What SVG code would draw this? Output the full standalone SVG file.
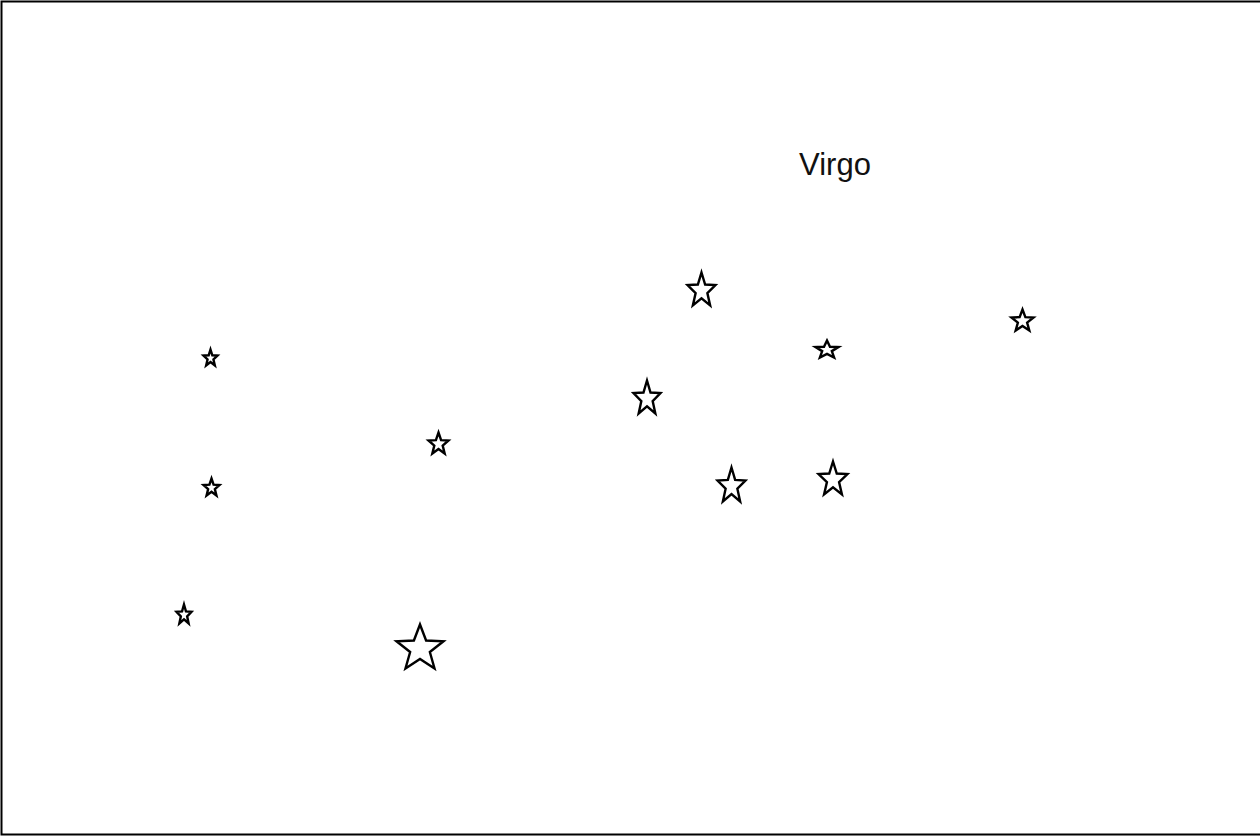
<svg xmlns="http://www.w3.org/2000/svg" xmlns:xlink="http://www.w3.org/1999/xlink" width="1260" height="836" viewBox="0 0 1260 836">
<style>
.star{fill:#fff;stroke:#000;stroke-width:2.4;stroke-linejoin:miter;vector-effect:non-scaling-stroke}
.label{font-family:"Liberation Sans",Arial,sans-serif;font-size:31px;fill:#111}
</style>
<defs>
<path id="s" class="star" d="M0,-1 L0.247,-0.34 L0.951,-0.309 L0.399,0.13 L0.588,0.809 L0,0.42 L-0.588,0.809 L-0.399,0.13 L-0.951,-0.309 L-0.247,-0.34 Z"/>
</defs>
<rect x="1.5" y="1.5" width="1270" height="833" fill="#fff" stroke="#000" stroke-width="2"/>
<g id="connectors"></g>
<g id="label"><text class="label" x="835" y="174.5" text-anchor="middle">Virgo</text></g>
<g id="star1"><use xlink:href="#s" transform="translate(210.5,358.3) scale(7.4,8.8)"/></g>
<g id="star2"><use xlink:href="#s" transform="translate(211.5,487.9) scale(8.4,9.4)"/></g>
<g id="star3"><use xlink:href="#s" transform="translate(184,615) scale(7.9,10.5)"/></g>
<g id="star4"><use xlink:href="#s" transform="translate(438.5,444.1) scale(10.5,11.6)"/></g>
<g id="star5"><use xlink:href="#s" transform="translate(420,648.8) scale(24.7,24.3)"/></g>
<g id="star6"><use xlink:href="#s" transform="translate(647,398.7) scale(14.2,18.2)"/></g>
<g id="star7"><use xlink:href="#s" transform="translate(701.5,290.7) scale(14.7,18.2)"/></g>
<g id="star8"><use xlink:href="#s" transform="translate(731.5,486.3) scale(14.7,18.8)"/></g>
<g id="star9"><use xlink:href="#s" transform="translate(827,349.9) scale(12.1,9.4)"/></g>
<g id="star10"><use xlink:href="#s" transform="translate(833,479.7) scale(15.2,18.2)"/></g>
<g id="star11"><use xlink:href="#s" transform="translate(1022.5,321.1) scale(11.6,11.6)"/></g>
</svg>
